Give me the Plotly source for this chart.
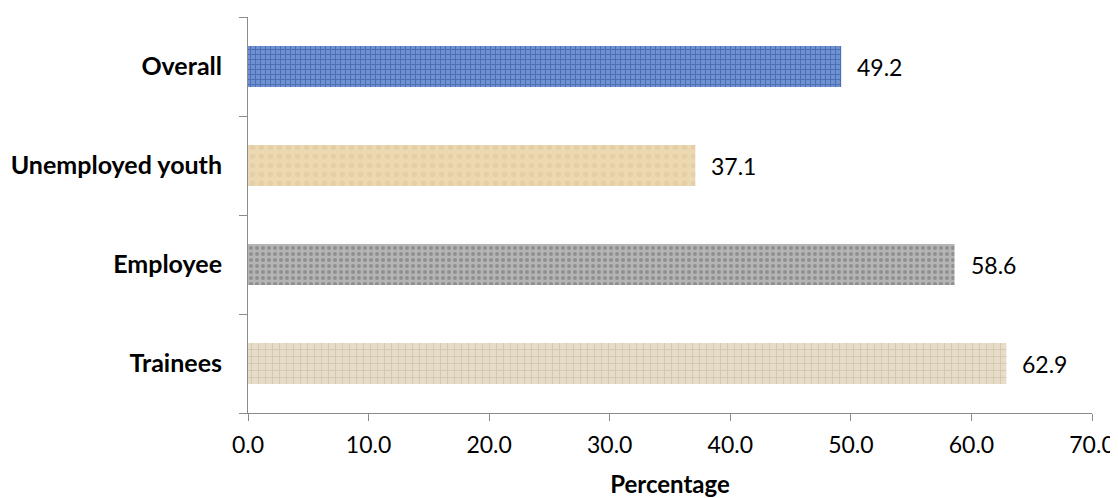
import plotly.graph_objects as go

categories = ["Trainees", "Employee", "Unemployed youth", "Overall"]
values = [62.9, 58.6, 37.1, 49.2]
value_labels = ["62.9", "58.6", "37.1", "49.2"]
x_ticks = [0, 10, 20, 30, 40, 50, 60, 70]

bg_colors = ["#e6dcc7", "#b4b4b4", "#ecd9b2", "#6d91d2"]
fg_colors = ["#b5a98f", "#6a6a6a", "#dcc69c", "#2c4c8e"]
shapes = ["+", ".", ".", "+"]
sizes = [7, 6, 9, 5]
solid = [0.2, 0.35, 0.3, 0.35]

FONT = "Lato"
fig = go.Figure()
for i, c in enumerate(categories):
    fig.add_trace(go.Bar(
        y=[c], x=[values[i]], orientation="h",
        marker=dict(color=bg_colors[i], line=dict(width=0),
                    pattern=dict(shape=shapes[i], fgcolor=fg_colors[i], bgcolor=bg_colors[i],
                                 size=sizes[i], solidity=solid[i], fillmode="overlay")),
        showlegend=False, hoverinfo="skip", width=0.414,
    ))

for c, v, t in zip(categories, values, value_labels):
    fig.add_annotation(x=v, y=c, text=t, showarrow=False, xanchor="left", xshift=14,
                       font=dict(family=FONT, size=23, color="#000000"))

fig.update_layout(
    width=1110, height=490,
    margin=dict(l=240, r=26, t=9, b=85),
    paper_bgcolor="white", plot_bgcolor="white",
    barmode="overlay",
    font=dict(family=FONT, size=23, color="#000000"),
)
fig.update_xaxes(
    range=[0, 70], tickvals=x_ticks, ticktext=[f"{v:.1f}" for v in x_ticks],
    showgrid=False, zeroline=False, showline=True, linecolor="#8c8c8c", linewidth=1,
    ticks="outside", ticklen=7, tickcolor="#8c8c8c", automargin=False,
    ticklabelstandoff=4,
    title=dict(text="<b>Percentage</b>", font=dict(family=FONT, size=24), standoff=24),
    tickfont=dict(family=FONT, size=23),
)
fig.update_yaxes(
    categoryorder="array", categoryarray=categories, range=[-0.5, 3.5],
    showgrid=False, zeroline=False, showline=True, linecolor="#8c8c8c", linewidth=1,
    ticks="outside", ticklen=8, tickcolor="#8c8c8c", tickson="boundaries",
    tickfont=dict(family=FONT, size=25), ticklabelstandoff=20, automargin=False,
    tickvals=categories, ticktext=[f"<b>{c}</b>" for c in categories],
)
fig.write_html("out.html")
